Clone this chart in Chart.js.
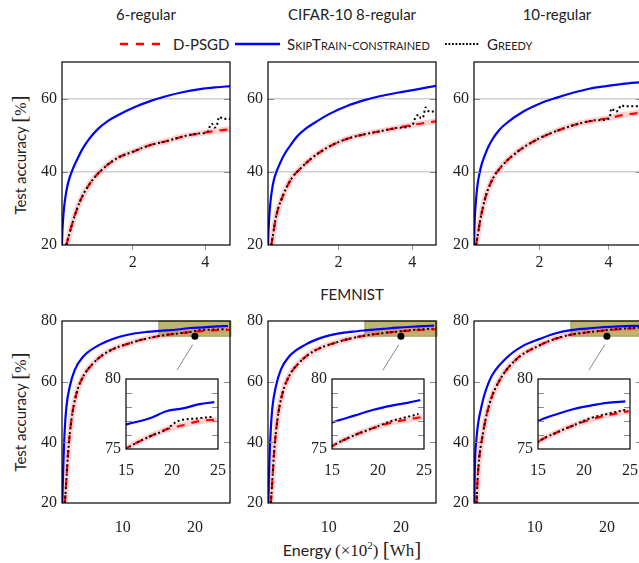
<!doctype html>
<html>
<head>
<meta charset="utf-8">
<script src="https://cdn.jsdelivr.net/npm/chart.js"></script>
<style>
    body {
        margin: 0;
        width: 639px;
        height: 563px;
        overflow: hidden;
        position: relative;
        background: #fff;
        font-family: Lato, sans-serif;
        color: #222;
    }

    canvas {
        position: absolute
    }

    .txt {
        position: absolute;
        white-space: nowrap;
        font-size: 15px;
        line-height: 1;
    }

    .serif {
        font-family: 'Liberation Serif', serif;
        font-size: 16px;
    }

    .big {
        font-family: 'Liberation Serif', serif;
        font-size: 21px;
    }

    .sc {
        font-variant: small-caps
    }
</style>
</head>
<body>
<svg style="position:absolute;left:0;top:36px" width="639" height="16">
    <line x1="120" y1="8" x2="160" y2="8" stroke="#ff0000" stroke-width="2.5" stroke-dasharray="8 8" />
    <line x1="235" y1="8" x2="280" y2="8" stroke="#0000ff" stroke-width="2.3" />
    <line x1="445" y1="8" x2="480" y2="8" stroke="#000" stroke-width="2" stroke-dasharray="1.8 1.7" />
</svg>
<div class="txt" style="left:146px;top:14px;transform:translate(-50%,-50%)">6-regular</div>
<div class="txt" style="left:352px;top:14px;transform:translate(-50%,-50%)">CIFAR-10 8-regular</div>
<div class="txt" style="left:557px;top:14px;transform:translate(-50%,-50%)">10-regular</div>
<div class="txt" style="left:352px;top:294px;transform:translate(-50%,-50%)">FEMNIST</div>
<div class="txt" style="left:173px;top:44px;transform:translateY(-50%)">D-PSGD</div>
<div class="txt sc" style="left:287px;top:44px;transform:translateY(-50%)">SkipTrain-constrained</div>
<div class="txt sc" style="left:487px;top:44px;transform:translateY(-50%)">Greedy</div>
<div class="txt" style="left:19px;top:155px;transform:translate(-50%,-50%) rotate(-90deg)">Test accuracy <span class="big">[</span><span class="serif">%</span><span class="big">]</span></div>
<div class="txt" style="left:19px;top:412px;transform:translate(-50%,-50%) rotate(-90deg)">Test accuracy <span class="big">[</span><span class="serif">%</span><span class="big">]</span></div>
<div class="txt" style="left:352px;top:549px;transform:translate(-50%,-50%);font-size:16px">Energy <span class="serif" style="font-size:17px">(&times;10<sup style="font-size:11px">2</sup>)</span> <span class="big">[</span><span class="serif" style="font-size:17px">Wh</span><span class="big">]</span></div>
<script>
    // CIFAR-10 (top row): [energy x100 Wh, accuracy %]
    const c6Dpsgd = [[0.17, 20], [0.35, 26.4], [0.54, 31.8], [0.82, 36.8], [1.09, 40.0], [1.55, 43.6], [2.01, 45.5], [2.48, 47.3], [2.94, 48.4], [3.40, 49.7], [3.86, 50.5], [4.23, 51.1], [4.68, 51.6]]
    const c6Skip = [[0.05, 20], [0.06, 23.5], [0.08, 27], [0.11, 30.5], [0.15, 33.5], [0.20, 36.2], [0.26, 38.4], [0.34, 40.6], [0.45, 43.0], [0.60, 46.0], [0.80, 49.0], [1.05, 51.8], [1.30, 53.8], [1.60, 55.5], [2.01, 57.5], [2.48, 59.3], [2.94, 60.7], [3.40, 61.8], [3.86, 62.6], [4.32, 63.1], [4.68, 63.4]]
    const c6Greedy = [[0.17, 20], [0.35, 26.4], [0.54, 31.8], [0.82, 36.8], [1.09, 40.0], [1.55, 43.6], [2.01, 45.5], [2.48, 47.3], [2.94, 48.4], [3.40, 49.7], [3.86, 50.5], [4.06, 50.9], [4.12, 52.3], [4.18, 53.1], [4.25, 52.1], [4.32, 52.7], [4.38, 55.0], [4.45, 54.7], [4.52, 54.4], [4.60, 54.6], [4.68, 54.4]]

    const c8Dpsgd = [[0.18, 20], [0.32, 28.2], [0.50, 33.6], [0.73, 38.2], [0.96, 40.8], [1.32, 44.1], [1.77, 47.0], [2.23, 49.0], [2.68, 50.2], [3.14, 51.1], [3.59, 52.0], [4.05, 52.9], [4.64, 53.8]]
    const c8Skip = [[0.09, 20], [0.10, 23], [0.12, 27], [0.15, 31], [0.19, 34.5], [0.25, 37.8], [0.33, 40.3], [0.41, 42.2], [0.52, 44.5], [0.64, 46.4], [0.87, 49.6], [1.10, 51.7], [1.32, 53.2], [1.77, 55.9], [2.23, 58.0], [2.68, 59.5], [3.14, 60.7], [3.59, 61.6], [4.05, 62.4], [4.64, 63.5]]
    const c8Greedy = [[0.18, 20], [0.32, 28.2], [0.50, 33.6], [0.73, 38.2], [0.96, 40.8], [1.32, 44.1], [1.77, 47.0], [2.23, 49.0], [2.68, 50.2], [3.14, 51.1], [3.59, 52.0], [4.00, 52.8], [4.09, 55.0], [4.18, 55.5], [4.23, 54.6], [4.29, 54.9], [4.36, 57.6], [4.41, 56.8], [4.50, 56.4], [4.59, 56.5], [4.64, 56.4]]

    const c10Dpsgd = [[0.16, 20], [0.31, 28.2], [0.45, 33.6], [0.65, 38.2], [0.89, 41.4], [1.23, 44.5], [1.71, 47.7], [2.19, 50.0], [2.68, 51.8], [3.16, 53.2], [3.64, 54.1], [4.03, 54.7], [4.41, 55.5], [4.97, 56.2]]
    const c10Skip = [[0.10, 20], [0.11, 24], [0.13, 28.5], [0.16, 32.5], [0.20, 36.3], [0.26, 39.6], [0.33, 42.3], [0.41, 44.4], [0.52, 46.9], [0.65, 49.1], [0.82, 51.3], [1.03, 53.2], [1.52, 56.4], [2.00, 58.6], [2.48, 60.2], [2.97, 61.6], [3.45, 62.7], [3.93, 63.4], [4.41, 64.0], [4.97, 64.5]]
    const c10Greedy = [[0.16, 20], [0.31, 28.2], [0.45, 33.6], [0.65, 38.2], [0.89, 41.4], [1.23, 44.5], [1.71, 47.7], [2.19, 50.0], [2.68, 51.8], [3.16, 53.2], [3.64, 54.1], [4.03, 54.6], [4.08, 57.3], [4.14, 56.9], [4.22, 56.4], [4.30, 57.2], [4.37, 58.2], [4.46, 57.9], [4.61, 57.9], [4.80, 57.9], [4.97, 57.8]]

    // FEMNIST (bottom row)
    const f6Dpsgd = [[1.95, 20], [2.16, 27.7], [2.39, 36.4], [2.86, 47.4], [3.56, 56.1], [4.47, 61.6], [5.86, 66.0], [7.72, 69.6], [11.4, 73.0], [13.3, 74.2], [15.07, 75.05], [17.6, 75.9], [19.4, 76.4], [21.2, 76.7], [23.0, 77.0], [24.87, 77.1]]
    const f6Skip = [[1.60, 20], [1.70, 29.9], [1.93, 44.1], [2.16, 51.7], [2.62, 58.3], [3.31, 63.8], [4.47, 68.2], [6.8, 72.2], [9.1, 74.5], [11.4, 75.8], [13.3, 76.4], [15.07, 76.76], [17.6, 77.2], [19.4, 77.7], [21.2, 77.9], [23.0, 78.2], [24.6, 78.35]]
    const f6Greedy = [[1.95, 20], [2.16, 27.7], [2.39, 36.4], [2.86, 47.4], [3.56, 56.1], [4.47, 61.6], [5.86, 66.0], [7.72, 69.6], [11.4, 73.0], [13.3, 74.2], [15.07, 75.05], [17.6, 75.9], [19.4, 76.4], [20.5, 76.95], [23.0, 77.2], [24.4, 77.3]]

    const f8Dpsgd = [[1.95, 20], [2.16, 27.7], [2.39, 36.5], [2.86, 47.5], [3.56, 56.2], [4.47, 61.8], [5.86, 66.2], [7.72, 69.8], [11.4, 73.2], [13.3, 74.4], [15.0, 75.2], [17.5, 76.0], [19.5, 76.5], [21.5, 76.9], [23.2, 77.1], [24.87, 77.3]]
    const f8Skip = [[1.60, 20], [1.70, 30.0], [1.93, 44.0], [2.16, 51.5], [2.62, 58.2], [3.31, 63.8], [4.47, 68.3], [6.8, 72.3], [9.1, 74.6], [11.4, 75.9], [13.3, 76.5], [15.0, 76.9], [17.5, 77.4], [19.5, 77.8], [21.5, 78.1], [23.2, 78.3], [24.6, 78.5]]
    const f8Greedy = [[1.95, 20], [2.16, 27.7], [2.39, 36.5], [2.86, 47.5], [3.56, 56.2], [4.47, 61.8], [5.86, 66.2], [7.72, 69.8], [11.4, 73.2], [13.3, 74.4], [15.0, 75.2], [17.5, 76.0], [19.5, 76.5], [21.5, 77.0], [23.2, 77.3], [24.4, 77.5]]

    const f10Dpsgd = [[1.90, 20], [2.10, 29.9], [2.80, 43.0], [3.73, 52.9], [5.12, 60.5], [7.44, 67.4], [10.68, 72.0], [12.8, 74.1], [15.0, 75.5], [17.1, 76.2], [18.9, 76.7], [20.7, 77.1], [22.5, 77.4], [24.87, 77.7]]
    const f10Skip = [[1.60, 20], [1.65, 30.0], [1.88, 40.8], [2.58, 51.7], [3.73, 60.5], [6.05, 67.8], [8.35, 71.8], [10.68, 74.1], [12.8, 75.9], [15.0, 76.98], [17.1, 77.5], [18.9, 77.86], [20.7, 78.1], [22.5, 78.3], [24.5, 78.4]]
    const f10Greedy = [[1.90, 20], [2.10, 29.9], [2.80, 43.0], [3.73, 52.9], [5.12, 60.5], [7.44, 67.4], [10.68, 72.0], [12.8, 74.1], [15.0, 75.5], [17.1, 76.2], [18.9, 76.7], [20.7, 77.2], [22.5, 77.5], [24.5, 77.8]]

    // axes
    const cifarXRanges = [[0.05, 4.68], [0.09, 4.64], [0.10, 4.97]]
    const cifarYRange = [20, 70]
    const cifarXTicks = [2, 4]
    const cifarYTicks = [20, 40, 60]
    const femnistXRange = [1.55, 24.87]
    const femnistYRange = [20, 80]
    const femnistXTicks = [10, 20]
    const femnistYTicks = [20, 40, 60, 80]
    const insetXTicks = [15, 20, 25]
    const insetYTicks = [75, 80]
    const insetMinorTicks = [76, 77, 78, 79]
    const zoomBox = { x: [15, 25], y: [75, 80] }
    const spyDot = [20, 75]
    const spyLine = [[19.7, 72.2], [17.5, 63.8]]

    Chart.defaults.font.family = "'Liberation Serif', serif"
    Chart.defaults.font.size = 16
    Chart.defaults.color = '#222'

    const frame = {
        id: 'frame',
        beforeDraw(chart, args, opts) {
            const { ctx, chartArea: a } = chart
            if (opts.white) {
                ctx.save()
                ctx.fillStyle = '#fff'
                ctx.fillRect(a.left, a.top, a.right - a.left, a.bottom - a.top)
                ctx.restore()
            }
        },
        beforeDatasetsDraw(chart, args, opts) {
            if (!opts.box) return
            const { ctx, scales } = chart
            const x0 = scales.x.getPixelForValue(opts.box.x[0]), x1 = scales.x.getPixelForValue(opts.box.x[1])
            const y0 = scales.y.getPixelForValue(opts.box.y[1]), y1 = scales.y.getPixelForValue(opts.box.y[0])
            ctx.save()
            ctx.fillStyle = 'rgb(190,182,112)'
            ctx.fillRect(x0, y0, x1 - x0, y1 - y0)
            ctx.strokeStyle = 'rgb(160,150,80)'
            ctx.lineWidth = 1
            ctx.strokeRect(x0, y0, x1 - x0, y1 - y0)
            ctx.restore()
        },
        afterDraw(chart, args, opts) {
            const { ctx, chartArea: a, scales } = chart
            ctx.save()
            if (opts.line) {
                ctx.strokeStyle = '#888'
                ctx.lineWidth = 1
                ctx.beginPath()
                ctx.moveTo(scales.x.getPixelForValue(opts.line[0][0]), scales.y.getPixelForValue(opts.line[0][1]))
                ctx.lineTo(scales.x.getPixelForValue(opts.line[1][0]), scales.y.getPixelForValue(opts.line[1][1]))
                ctx.stroke()
            }
            if (opts.dot) {
                ctx.fillStyle = '#000'
                ctx.beginPath()
                ctx.arc(scales.x.getPixelForValue(opts.dot[0]), scales.y.getPixelForValue(opts.dot[1]), 3.5, 0, 2 * Math.PI)
                ctx.fill()
            }
            ctx.strokeStyle = '#8a8a8a'
            ctx.lineWidth = 1
            ;(opts.yTicks || []).forEach(v => {
                const y = Math.round(scales.y.getPixelForValue(v)) + 0.5
                ctx.beginPath()
                ctx.moveTo(a.left, y); ctx.lineTo(a.left + 6, y)
                ctx.moveTo(a.right - 6, y); ctx.lineTo(a.right, y)
                ctx.stroke()
            })
            ctx.strokeStyle = '#000'
            ctx.lineWidth = 1.2
            ctx.strokeRect(a.left, a.top, a.right - a.left, a.bottom - a.top)
            ctx.restore()
        }
    }

    const pts = arr => arr.map(p => ({ x: p[0], y: p[1] }))

    function series(dpsgd, skip, greedy) {
        return [
            { data: pts(greedy), borderColor: '#000', borderWidth: 2, borderDash: [2, 2.6], order: 0 },
            { data: pts(skip), borderColor: '#0000ff', borderWidth: 2.2, order: 1 },
            { data: pts(dpsgd), borderColor: '#ff0000', borderWidth: 2.2, borderDash: [8, 7], order: 2 },
            { data: pts(dpsgd), borderColor: 'rgba(255,110,110,0.3)', borderWidth: 6, order: 3 },
        ]
    }

    function place(left, top, w, h) {
        const c = document.createElement('canvas')
        c.width = w
        c.height = h
        c.style.left = left + 'px'
        c.style.top = top + 'px'
        document.body.appendChild(c)
        return c
    }

    // s: layout sizes {axw, axh, padt, padr}
    function panel(canvas, s, data, xr, yr, xt, yt, xs, plug) {
        return new Chart(canvas, {
            type: 'line',
            data: { datasets: data },
            plugins: [frame],
            options: {
                responsive: false,
                animation: false,
                layout: { padding: { top: s.padt, right: s.padr, left: 0, bottom: 0 } },
                elements: { point: { radius: 0 }, line: { cubicInterpolationMode: 'monotone', borderCapStyle: 'butt' } },
                datasets: { line: { clip: 0 } },
                plugins: { legend: { display: false }, tooltip: { enabled: false }, frame: plug },
                scales: {
                    x: {
                        type: 'linear', min: xr[0], max: xr[1],
                        afterBuildTicks: sc => { sc.ticks = xt.map(v => ({ value: v })) },
                        afterFit: sc => { sc.height = s.axh },
                        grid: { display: xs.ticks, drawOnChartArea: false, drawTicks: true, tickLength: 5, color: '#999' },
                        border: { display: false },
                        ticks: { padding: xs.pad, maxRotation: 0, autoSkip: false }
                    },
                    y: {
                        type: 'linear', min: yr[0], max: yr[1],
                        afterBuildTicks: sc => { sc.ticks = yt.map(v => ({ value: v })) },
                        afterFit: sc => { sc.width = s.axw },
                        grid: {
                            display: xs.ygrid, drawTicks: false, lineWidth: 1.5,
                            color: c => (c.tick && c.tick.value === yr[0]) ? 'rgba(0,0,0,0)' : '#d0d0d0'
                        },
                        border: { display: false },
                        ticks: { padding: 5 }
                    }
                }
            }
        })
    }

    const main = { axw: 44, axh: 30, padt: 16, padr: 6 }
    const ins = { axw: 26, axh: 26, padt: 16, padr: 18 }
    const lefts = [62, 268, 474]
    const plotW = 168

    const cifar = [[c6Dpsgd, c6Skip, c6Greedy], [c8Dpsgd, c8Skip, c8Greedy], [c10Dpsgd, c10Skip, c10Greedy]]
    const femnist = [[f6Dpsgd, f6Skip, f6Greedy], [f8Dpsgd, f8Skip, f8Greedy], [f10Dpsgd, f10Skip, f10Greedy]]

    cifar.forEach((d, i) => {
        const cv = place(lefts[i] - main.axw, 62 - main.padt, main.axw + plotW + main.padr, main.padt + 183 + main.axh)
        panel(cv, main, series(...d), cifarXRanges[i], cifarYRange, cifarXTicks, cifarYTicks,
            { ticks: true, pad: 3, ygrid: true }, { yTicks: [40, 60] })
    })

    femnist.forEach((d, i) => {
        const cv = place(lefts[i] - main.axw, 321 - main.padt, main.axw + plotW + main.padr, main.padt + 182 + main.axh)
        panel(cv, main, series(...d), femnistXRange, femnistYRange, femnistXTicks, femnistYTicks,
            { ticks: false, pad: 10, ygrid: false }, { yTicks: [40, 60], box: zoomBox, dot: spyDot, line: spyLine })
    })

    femnist.forEach((d, i) => {
        const il = lefts[i] + 64
        const cv = place(il - ins.axw, 379 - ins.padt, ins.axw + 92 + ins.padr, ins.padt + 70 + ins.axh)
        panel(cv, ins, series(...d), zoomBox.x, zoomBox.y, insetXTicks, insetYTicks,
            { ticks: false, pad: 7, ygrid: false }, { yTicks: insetMinorTicks, white: true })
    })
</script>
</body>
</html>
